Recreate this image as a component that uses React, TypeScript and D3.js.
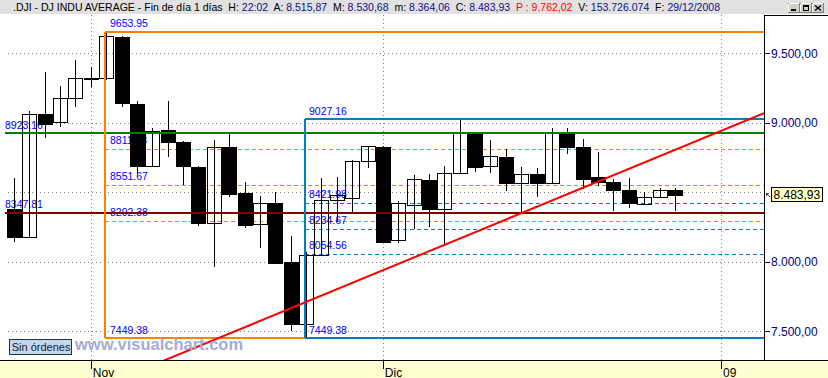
import React from "react";
import * as d3 from "d3";

// ---------- data ----------
const sessions = [
  "27/10", "28/10", "29/10", "30/10", "31/10",
  "03/11", "04/11", "05/11", "06/11", "07/11",
  "10/11", "11/11", "12/11", "13/11", "14/11",
  "17/11", "18/11", "19/11", "20/11", "21/11",
  "24/11", "25/11", "26/11", "28/11",
  "01/12", "02/12", "03/12", "04/12", "05/12",
  "08/12", "09/12", "10/12", "11/12", "12/12",
  "15/12", "16/12", "17/12", "18/12", "19/12",
  "22/12", "23/12", "24/12", "26/12", "29/12",
];
const futureSessions = ["30/12", "31/12", "02/01"];

const opens = [
  8380, 8176, 9061, 9004, 9176,
  9325, 9320, 9615, 9135, 8691,
  8948, 8862, 8684, 8277, 8824,
  8493, 8270, 8421, 7996, 7550,
  8049, 8445, 8461, 8725,
  8828, 8155, 8406, 8586, 8378,
  8637, 8932, 8691, 8752, 8565,
  8630, 8565, 8924, 8824, 8608,
  8574, 8516, 8414, 8464, 8515.87,
];
const highs = [
  8603, 9085, 9363, 9265, 9452,
  9404, 9653.95, 9625, 9157, 8965,
  9157, 8870, 8690, 8876, 8924,
  8574, 8475, 8500, 8186, 8073,
  8605, 8608, 8730, 8835,
  8830, 8437, 8624, 8632, 8687,
  9027.16, 8935, 8876, 8811, 8682,
  8673, 8960, 8960, 8883, 8788,
  8598, 8603, 8500, 8529, 8530.68,
];
const lows = [
  8140, 8170, 8888, 8972, 9116,
  9255, 9310, 9111, 8632, 8680,
  8756, 8552, 8258, 7965, 8468,
  8245, 8101, 7990, 7504, 7449.38,
  8040, 8288, 8360, 8673,
  8140, 8138, 8234, 8252, 8116,
  8630, 8648, 8641, 8511, 8349,
  8468, 8560, 8773, 8526, 8545,
  8368, 8389, 8410, 8460, 8364.06,
];
const closes = [
  8176, 9061, 8989, 9176, 9320,
  9320, 9627, 9140, 8691, 8941,
  8864, 8691, 8281, 8828, 8490,
  8265, 8421, 7993, 7550, 8049,
  8445, 8481, 8725, 8833,
  8145, 8421, 8593, 8378, 8639,
  8932, 8684, 8759, 8565, 8630,
  8565, 8924, 8824, 8598, 8576,
  8519, 8421, 8464, 8514, 8483.93,
];

const timeTickDates = ["03/11", "01/12", "02/01"];
const timeTickLabels = ["Nov", "Dic", "09"];

const gridValues = [7500, 8000, 8500, 9000, 9500];
const priceTickValues = [7500, 8000, 9000, 9500];
const priceTickLabels = ["7.500,00", "8.000,00", "9.000,00", "9.500,00"];

const orangeBoxStart = "04/11";
const orangeBoxHigh = 9653.95;
const orangeBoxLow = 7449.38;
const orangeLevels = [8811.78, 8551.67, 8292.38];

const blueBoxStart = "21/11";
const blueBoxHigh = 9027.16;
const blueBoxLow = 7449.38;
const blueLevels = [8421.98, 8234.67, 8054.56];

const greenLevel = 8923.16;
const redLevel = 8347.81;

const trendDates = ["19/11", "29/12"];
const trendValues = [7620, 8805.6];

const lastPrice = 8483.93;
const lastPriceLabel = "8.483,93";

const headerParts = [
  { t: ".DJI - DJ INDU AVERAGE - Fin de día 1 días  ", c: "#000000" },
  { t: "H: ", c: "#000000" },
  { t: "22:02  ", c: "#10108c" },
  { t: "A: ", c: "#000000" },
  { t: "8.515,87  ", c: "#10108c" },
  { t: "M: ", c: "#000000" },
  { t: "8.530,68  ", c: "#10108c" },
  { t: "m: ", c: "#000000" },
  { t: "8.364,06  ", c: "#10108c" },
  { t: "C: ", c: "#000000" },
  { t: "8.483,93  ", c: "#10108c" },
  { t: "P : 9.762,02  ", c: "#ff0000" },
  { t: "V: ", c: "#000000" },
  { t: "153.726.074  ", c: "#10108c" },
  { t: "F: ", c: "#000000" },
  { t: "29/12/2008", c: "#10108c" },
];

// ---------- layout ----------
const W = 828;
const H = 378;
const plotLeft = 0;
const plotRight = 764;
const plotTop = 15;
const plotBottom = 360;
const FONT = "'Liberation Sans', Arial, sans-serif";

const px = (v: number) => Math.round(v) + 0.5;

export default function App() {
  const allSessions = [...sessions, ...futureSessions];
  const x = d3.scalePoint<string>().domain(allSessions).range([14, 721]).padding(0);
  const y = d3.scaleLinear().domain([7500, 9500]).range([331.3, 53.3]);

  const bodyW = 14;

  const candles = sessions.map((d, i) => {
    const o = opens[i], c = closes[i], h = highs[i], l = lows[i];
    const cx = Math.round(x(d) as number);
    const up = c >= o;
    const top = y(Math.max(o, c));
    const bot = y(Math.min(o, c));
    const bh = Math.max(1, Math.round(bot) - Math.round(top));
    return (
      <g key={d}>
        <line x1={cx + 0.5} x2={cx + 0.5} y1={Math.round(y(h))} y2={Math.round(y(l))} stroke="#000" strokeWidth={1} />
        {up ? (
          <rect x={cx - 7 + 0.5} y={Math.round(top) + 0.5} width={bodyW} height={bh} fill="none" stroke="#000" strokeWidth={1} />
        ) : (
          <rect x={cx - 7} y={Math.round(top)} width={bodyW + 1} height={bh + 1} fill="#000" />
        )}
      </g>
    );
  });

  const oX = Math.round(x(orangeBoxStart) as number) - 1;
  const bX = Math.round(x(blueBoxStart) as number) - 1;

  // trend line extended across plot, clipped
  const tx1 = x(trendDates[0]) as number, ty1 = y(trendValues[0]);
  const tx2 = x(trendDates[1]) as number, ty2 = y(trendValues[1]);
  const slope = (ty2 - ty1) / (tx2 - tx1);
  const tA = { x: 100, y: ty1 + (100 - tx1) * slope };
  const tB = { x: plotRight, y: ty1 + (plotRight - tx1) * slope };

  const levelLabel = (key: string, tx: number, v: number, text: string, dy = 5) => (
    <text key={key} x={tx} y={y(v) - dy} fontFamily={FONT} fontSize={10.5} fill="#0000ff">{text}</text>
  );

  return (
    <svg width={W} height={H} style={{ position: "absolute", left: 0, top: 0, display: "block" }} shapeRendering="crispEdges">
      <defs>
        <clipPath id="plotClip">
          <rect x={plotLeft} y={plotTop} width={plotRight - plotLeft} height={plotBottom - plotTop} />
        </clipPath>
      </defs>
      <rect x={0} y={0} width={W} height={H} fill="#ffffff" />

      {/* header */}
      <rect x={0} y={0} width={W} height={14} fill="#e1e1e1" />
      <text x={13} y={10.5} fontFamily={FONT} fontSize={10.5} textLength={707} lengthAdjust="spacingAndGlyphs" style={{ whiteSpace: "pre" }}>
        {headerParts.map((p, i) => (
          <tspan key={i} fill={p.c}>{p.t}</tspan>
        ))}
      </text>
      {/* window buttons */}
      {[788, 800, 812].map((bx, i) => (
        <g key={bx}>
          <rect x={bx + 0.5} y={3.5} width={11} height={9} fill="#d4d0c8" stroke="#808080" />
          <line x1={bx + 0.5} x2={bx + 11} y1={3.5} y2={3.5} stroke="#ffffff" />
          <line x1={bx + 0.5} x2={bx + 0.5} y1={3.5} y2={12} stroke="#ffffff" />
          {i === 0 && <rect x={bx + 3} y={9} width={5} height={2} fill="#000" />}
          {i === 1 && (
            <g>
              <rect x={bx + 3.5} y={5.5} width={5} height={5} fill="none" stroke="#000" />
              <line x1={bx + 3} x2={bx + 9} y1={6.5} y2={6.5} stroke="#000" />
            </g>
          )}
          {i === 2 && (
            <path d={`M${bx + 3},${5.5} L${bx + 9},${10.5} M${bx + 9},${5.5} L${bx + 3},${10.5}`} stroke="#000" strokeWidth={1.4} shapeRendering="auto" />
          )}
        </g>
      ))}

      {/* grid */}
      {gridValues.map((v) => (
        <line key={"g" + v} x1={8} x2={plotRight} y1={px(y(v))} y2={px(y(v))} stroke="#808080" strokeDasharray="1,3" />
      ))}
      {timeTickDates.map((d) => (
        <line key={"v" + d} x1={px(x(d) as number)} x2={px(x(d) as number)} y1={plotTop} y2={plotBottom} stroke="#808080" strokeDasharray="1,3" />
      ))}

      {/* dashed fib levels */}
      {orangeLevels.map((v) => (
        <line key={"ol" + v} x1={oX} x2={plotRight} y1={px(y(v))} y2={px(y(v))} stroke="#ff8000" strokeDasharray="4,3" />
      ))}
      {blueLevels.map((v) => (
        <line key={"bl" + v} x1={bX} x2={plotRight} y1={px(y(v))} y2={px(y(v))} stroke="#0080c0" strokeDasharray="4,3" />
      ))}

      {/* labels */}
      {levelLabel("lo1", oX + 5, orangeBoxHigh, orangeBoxHigh.toFixed(2), 4.5)}
      {levelLabel("lo2", oX + 5, orangeBoxLow, orangeBoxLow.toFixed(2), 4)}
      {orangeLevels.map((v) => levelLabel("lol" + v, oX + 5, v, v.toFixed(2)))}
      {levelLabel("lb1", bX + 4, blueBoxHigh, blueBoxHigh.toFixed(2), 4)}
      {levelLabel("lb2", bX + 4, blueBoxLow, blueBoxLow.toFixed(2), 4)}
      {blueLevels.map((v) => levelLabel("lbl" + v, bX + 4, v, v.toFixed(2)))}
      {levelLabel("lg", 5, greenLevel, greenLevel.toFixed(2), 4.5)}
      {levelLabel("lr", 5, redLevel, redLevel.toFixed(2), 5.5)}

      {/* candles */}
      {candles}

      {/* solid level lines */}
      <line x1={5} x2={plotRight} y1={Math.round(y(greenLevel))} y2={Math.round(y(greenLevel))} stroke="#008000" strokeWidth={2} />
      <line x1={5} x2={plotRight} y1={Math.round(y(redLevel))} y2={Math.round(y(redLevel))} stroke="#800000" strokeWidth={2} />

      <line x1={oX} x2={oX} y1={Math.round(y(orangeBoxHigh))} y2={Math.round(y(orangeBoxLow))} stroke="#ff8000" strokeWidth={2} />
      <line x1={oX} x2={plotRight} y1={Math.round(y(orangeBoxHigh))} y2={Math.round(y(orangeBoxHigh))} stroke="#ff8000" strokeWidth={2} />
      <line x1={oX} x2={plotRight} y1={Math.round(y(orangeBoxLow))} y2={Math.round(y(orangeBoxLow))} stroke="#ff8000" strokeWidth={2} />

      <line x1={bX} x2={bX} y1={Math.round(y(blueBoxHigh))} y2={Math.round(y(blueBoxLow))} stroke="#0080c0" strokeWidth={2} />
      <line x1={bX} x2={plotRight} y1={Math.round(y(blueBoxHigh))} y2={Math.round(y(blueBoxHigh))} stroke="#0080c0" strokeWidth={2} />
      <line x1={bX} x2={plotRight} y1={Math.round(y(blueBoxLow))} y2={Math.round(y(blueBoxLow))} stroke="#0080c0" strokeWidth={2} />

      {/* trend line */}
      <g clipPath="url(#plotClip)">
        <line x1={tA.x} y1={tA.y} x2={tB.x} y2={tB.y} stroke="#ff0000" strokeWidth={2} shapeRendering="auto" />
      </g>

      {/* watermark & status */}
      <text x={75} y={350} fontFamily={FONT} fontWeight="bold" fontSize={16.5} fill="#a8aad4" shapeRendering="auto">www.visualchart.com</text>
      <rect x={9.5} y={339.5} width={62} height={15} fill="#c6d6ec" stroke="#1c3448" />
      <text x={11.7} y={351} fontFamily={FONT} fontSize={11} fill="#10202c">Sin órdenes</text>

      {/* right axis */}
      <line x1={plotRight + 0.5} x2={plotRight + 0.5} y1={plotTop} y2={plotBottom} stroke="#000" />
      <line x1={plotRight} x2={W} y1={plotTop + 0.5} y2={plotTop + 0.5} stroke="#000" />
      {priceTickValues.map((v, i) => (
        <g key={"pt" + v}>
          <line x1={plotRight} x2={plotRight + 6} y1={px(y(v))} y2={px(y(v))} stroke="#000080" />
          <text x={771} y={y(v) + 4.5} fontFamily={FONT} fontSize={12} fill="#000080">{priceTickLabels[i]}</text>
        </g>
      ))}
      <rect x={771.5} y={Math.round(y(lastPrice)) - 7.5} width={51} height={14} fill="#ffffc0" stroke="#000" />
      <text x={773.5} y={y(lastPrice) + 4.5} fontFamily={FONT} fontSize={12} fill="#000">{lastPriceLabel}</text>
      <path d={`M766,${Math.round(y(lastPrice)) - 2} l4,4 M766,${Math.round(y(lastPrice)) - 2} v3 M766,${Math.round(y(lastPrice)) - 2} h3`} stroke="#404040" fill="none" />

      {/* time axis */}
      <rect x={0} y={plotBottom} width={W} height={H - plotBottom} fill="#ffffd0" />
      <line x1={0} x2={W} y1={plotBottom + 0.5} y2={plotBottom + 0.5} stroke="#000" />
      {timeTickDates.map((d, i) => (
        <g key={"tt" + d}>
          <line x1={px(x(d) as number)} x2={px(x(d) as number)} y1={plotBottom} y2={plotBottom + 9} stroke="#000" />
          <text x={(x(d) as number) + 2} y={376.5} fontFamily={FONT} fontSize={12} fill="#000">{timeTickLabels[i]}</text>
        </g>
      ))}
    </svg>
  );
}
